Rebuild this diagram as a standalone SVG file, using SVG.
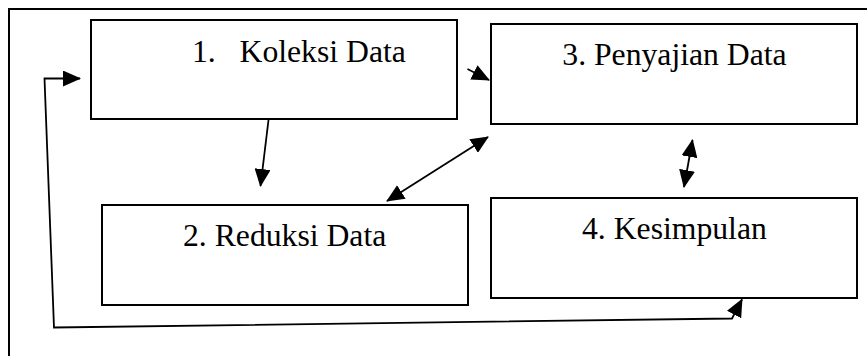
<svg xmlns="http://www.w3.org/2000/svg" width="867" height="356" viewBox="0 0 867 356">
<style>
.box{fill:#fff;stroke:#000;stroke-width:2}
.lbl{font-family:"Liberation Serif","Times New Roman",serif;font-size:31.7px;fill:#000}
.con{fill:none;stroke:#000;stroke-width:1.8}
</style>
<defs>
<marker id="ah" viewBox="0 0 18 16" refX="17" refY="8" markerWidth="18" markerHeight="16" markerUnits="userSpaceOnUse" orient="auto-start-reverse">
<path d="M0,0 L18,8 L0,16 z" fill="#000"/>
</marker>
</defs>
<rect width="867" height="356" fill="#fff"/>
<path d="M9,360 V9 H870" fill="none" stroke="#000" stroke-width="2"/>
<g id="n1">
<rect class="box" x="91" y="20" width="366" height="99"/>
<text class="lbl" x="192" y="62">1.</text>
<text class="lbl" x="239.5" y="62">Koleksi Data</text>
</g>
<g id="n2">
<rect class="box" x="102" y="205" width="366" height="100"/>
<text class="lbl" x="183" y="246">2. Reduksi Data</text>
</g>
<g id="n3">
<rect class="box" x="491" y="24" width="366" height="100"/>
<text class="lbl" x="674.5" y="65" text-anchor="middle">3. Penyajian Data</text>
</g>
<g id="n4">
<rect class="box" x="491" y="198" width="366" height="100"/>
<text class="lbl" x="582" y="239">4. Kesimpulan</text>
</g>
<g id="connectors">
<path class="con" d="M742,299.5 L732,318.5 L54,327.5 L44.5,78.5 L80,78.5" marker-start="url(#ah)" marker-end="url(#ah)"/>
<path class="con" d="M268.5,120 L260.5,186" marker-end="url(#ah)"/>
<path class="con" d="M467.5,69 L489,80" marker-end="url(#ah)"/>
<path class="con" d="M387,201 L488,137" marker-start="url(#ah)" marker-end="url(#ah)"/>
<path class="con" d="M692.5,140 L684,187" marker-start="url(#ah)" marker-end="url(#ah)"/>
</g>
</svg>
